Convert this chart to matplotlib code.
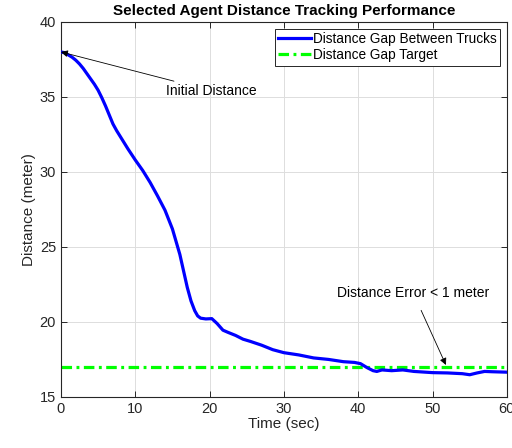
import numpy as np
import matplotlib.pyplot as plt

plt.rcParams['font.family'] = ['Liberation Sans', 'DejaVu Sans']

# gap between trucks
t = [0, 0.5, 1, 1.5, 2, 2.5, 3, 3.5, 4, 4.5, 5, 5.5, 6, 6.5, 7, 7.5, 8, 9, 10,
     11, 12, 13, 14, 15, 16, 16.5, 17, 17.5, 18, 18.4, 18.8, 19.5, 20.3, 21,
     21.8, 22.5, 23.5, 24.5, 25.5, 27, 28.5, 30, 32, 34, 36, 38, 39.5, 40.3,
     41.2, 42, 42.5, 43.2, 44.5, 46, 47.5, 50, 52, 54, 55, 56, 57, 58, 60]
gap = [38.0, 37.95, 37.8, 37.65, 37.45, 37.2, 36.9, 36.55, 36.2, 35.85, 35.45,
       34.95, 34.4, 33.8, 33.2, 32.75, 32.35, 31.55, 30.8, 30.1, 29.3, 28.4,
       27.45, 26.2, 24.5, 23.4, 22.3, 21.4, 20.75, 20.4, 20.25, 20.2, 20.22,
       19.9, 19.45, 19.3, 19.1, 18.85, 18.7, 18.45, 18.15, 17.95, 17.8, 17.6,
       17.5, 17.35, 17.3, 17.22, 16.95, 16.75, 16.7, 16.8, 16.75, 16.8, 16.7,
       16.62, 16.6, 16.55, 16.48, 16.6, 16.7, 16.68, 16.65]
target = 17.0
t_range = [0, 60]

fig = plt.figure(figsize=(5.12, 4.48), dpi=100)
ax = fig.add_axes([0.119, 0.114, 0.871, 0.837])

ax.plot(t, gap, color='#0000ff', lw=2.3, label='Distance Gap Between Trucks',
        zorder=3, solid_joinstyle='round')
ax.plot(t_range, [target, target], color='#00ff00', lw=2.3,
        dashes=(3.3, 1.4, 0.9, 1.4), label='Distance Gap Target', zorder=2)

ax.set_xlim(0, 60)
ax.set_ylim(15, 40)
ax.set_xticks(range(0, 61, 10))
ax.set_yticks(range(15, 41, 5))
ax.grid(True, color='#dddddd', lw=0.7)
ax.tick_params(direction='in', top=True, right=True, labelsize=10.5,
               colors='#262626', length=4, width=0.7)
for s in ax.spines.values():
    s.set_color('#262626')
    s.set_linewidth(0.8)

ax.set_xlabel('Time (sec)', fontsize=11, color='#262626', labelpad=1)
ax.set_ylabel('Distance (meter)', fontsize=11, color='#262626', labelpad=3)
ax.set_title('Selected Agent Distance Tracking Performance', fontsize=11,
             fontweight='bold', pad=5)

ax.annotate('Initial Distance', xy=(0, 38), xytext=(14.2, 35.4),
            fontsize=10, va='center', ha='left',
            arrowprops=dict(arrowstyle='-|>', color='black', lw=0.6,
                            mutation_scale=10, shrinkA=0, shrinkB=0))
ax.annotate('Distance Error < 1 meter', xy=(51.8, 17.13), xytext=(47.4, 21.93),
            fontsize=10, va='center', ha='center',
            arrowprops=dict(arrowstyle='-|>', color='black', lw=0.6,
                            mutation_scale=10, shrinkA=6, shrinkB=0))

leg = ax.legend(loc='upper right', fontsize=9.8, handlelength=2.4,
                handletextpad=0.15, borderpad=0.25, labelspacing=0.15,
                fancybox=False, framealpha=1, borderaxespad=0.5)
leg.get_frame().set_edgecolor('#262626')
leg.get_frame().set_linewidth(0.7)

fig.savefig('out.png', dpi=100)
